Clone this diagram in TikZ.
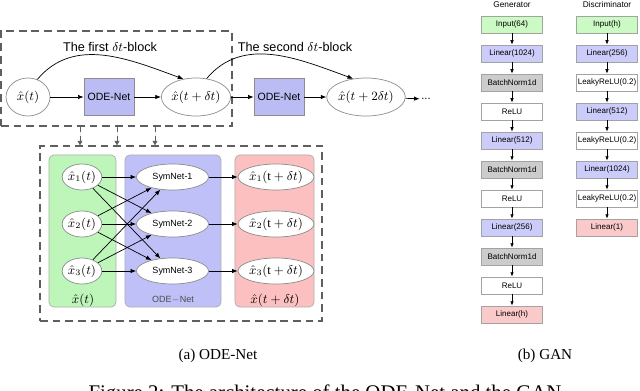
\documentclass[tikz,border=0pt]{standalone}
\usepackage{fontspec}
\setmainfont{Liberation Serif}
\setsansfont{Liberation Sans}
\usepackage{tikz}
\usetikzlibrary{arrows.meta,positioning,shapes.geometric}
\definecolor{odeblue}{RGB}{188,188,244}
\definecolor{panelgreen}{RGB}{190,246,186}
\definecolor{panelblue}{RGB}{192,192,248}
\definecolor{panelred}{RGB}{252,192,192}
\definecolor{layergreen}{RGB}{204,250,196}
\definecolor{layerblue}{RGB}{204,204,250}
\definecolor{layergray}{RGB}{204,204,204}
\definecolor{layerred}{RGB}{250,202,202}
\definecolor{edgegray}{RGB}{140,140,140}
\definecolor{dashgray}{RGB}{95,95,95}
\tikzset{
  stateell/.style={ellipse,draw=edgegray,fill=white,line width=0.5pt,inner sep=0pt,minimum width=1.1cm,
    minimum height=0.95cm,font=\fontsize{9.5}{10}\selectfont},
  odebox/.style={draw=edgegray,fill=odeblue,line width=0.5pt,minimum width=1.25cm,minimum height=0.925cm,
    inner sep=0pt,font=\sffamily\fontsize{7.5}{9}\selectfont},
  blkframe/.style={draw=dashgray,dash pattern=on 5.5pt off 3.5pt,line width=0.9pt,inner sep=0pt},
  blklabel/.style={font=\sffamily\fontsize{9}{10}\selectfont,inner sep=0pt},
  panel/.style={draw=edgegray!70,line width=0.5pt,rounded corners=1.2mm,minimum height=3.8cm,inner sep=0pt},
  panellabel/.style={font=\fontsize{9}{10}\selectfont,inner sep=0pt},
  compell/.style={ellipse,draw=edgegray,fill=white,line width=0.5pt,inner sep=0pt,minimum width=0.95cm,
    minimum height=0.65cm,font=\fontsize{9}{10}\selectfont},
  symell/.style={compell,minimum width=1.8cm,font=\sffamily\fontsize{6.4}{7}\selectfont},
  outell/.style={compell,minimum width=1.3cm},
  layer/.style={draw=edgegray!80,line width=0.5pt,minimum width=1.525cm,minimum height=0.425cm,inner sep=0pt,
    font=\sffamily\fontsize{5.7}{6}\selectfont,fill=white},
  layerin/.style={layer,fill=layergreen},
  layerlin/.style={layer,fill=layerblue},
  layernorm/.style={layer,fill=layergray},
  layerout/.style={layer,fill=layerred},
  gantitle/.style={font=\sffamily\fontsize{5.9}{6}\selectfont,inner sep=0pt},
  subcap/.style={font=\fontsize{10.8}{12}\selectfont,inner sep=0pt},
  figcap/.style={font=\fontsize{14.8}{16}\selectfont,inner sep=0pt,anchor=base},
  mainflow/.style={-{Latex[length=1.4mm,width=1.1mm]},line width=0.5pt},
  skipflow/.style={-{Latex[length=1.4mm,width=1.1mm]},line width=0.5pt},
  feed/.style={-{Triangle[length=1.1mm,width=1.2mm]},draw=dashgray,fill=dashgray,
    dash pattern=on 4pt off 3pt,line width=0.6pt},
  layerflow/.style={-{Latex[length=1.1mm,width=0.9mm]},line width=0.5pt}
}
\begin{document}
\begin{tikzpicture}[x=0.025cm,y=-0.025cm]
  \useasboundingbox (0,0) rectangle (640,390);
  \node[blkframe,minimum width=5.775cm,minimum height=2.375cm] (blk1) at (116.5,78.5) {};
  \node[blklabel] (lbl1) at (110,47) {The first $\delta t$-block};
  \node[blklabel] (lbl2) at (295,47) {The second $\delta t$-block};
  \node[stateell] (xt) at (28,97) {$\hat{x}(t)$};
  \node[odebox] (ode1) at (109,97) {ODE-Net};
  \node[stateell,minimum width=1.425cm] (xt1) at (196,97) {$\hat{x}(t+\delta t)$};
  \node[odebox] (ode2) at (279,97) {ODE-Net};
  \node[stateell,minimum width=1.6cm] (xt2) at (366,97) {$\hat{x}(t+2\delta t)$};
  \node[font=\sffamily\fontsize{8}{9}\selectfont,inner sep=1pt] (dots) at (426,99) {...};
  \draw[mainflow] (xt) -- (ode1);
  \draw[mainflow] (ode1) -- (xt1);
  \draw[mainflow] (xt1) -- (ode2);
  \draw[mainflow] (ode2) -- (xt2);
  \draw[mainflow] (xt2) -- (dots);
  \draw[skipflow] (xt.62) to[out=50,in=160] (xt1.125);
  \draw[skipflow] (xt1.60) to[out=50,in=160] (xt2.125);

  \node[blkframe,minimum width=7.05cm,minimum height=4.375cm] (blk2) at (181,233.5) {};
  \coordinate (tapA) at (80,0);
  \coordinate (tapB) at (117,0);
  \coordinate (tapC) at (155,0);
  \draw[feed] (blk1.south -| tapA) -- (blk2.north -| tapA);
  \draw[feed] (blk1.south -| tapB) -- (blk2.north -| tapB);
  \draw[feed] (blk1.south -| tapC) -- (blk2.north -| tapC);
  \node[panel,fill=panelgreen,minimum width=1.675cm] (pin) at (82.5,231) {};
  \node[panel,fill=panelblue,minimum width=2.4cm] (pode) at (173,231) {};
  \node[panel,fill=panelred,minimum width=1.975cm] (pout) at (274.5,231) {};
  \node[panellabel] (lin) at (83,300) {$\hat{x}(t)$};
  \node[panellabel,font=\sffamily\fontsize{6.4}{7}\selectfont,text=black!70] (lode) at (173,300) {ODE$-$Net};
  \node[panellabel] (lout) at (275,300) {$\hat{x}(t+\delta t)$};
  \node[compell] (in1) at (82,177) {$\hat{x}_1(t)$};
  \node[compell] (in2) at (82,224) {$\hat{x}_2(t)$};
  \node[compell] (in3) at (82,271) {$\hat{x}_3(t)$};
  \node[symell] (sym1) at (172.5,177) {SymNet-1};
  \node[symell] (sym2) at (172.5,224) {SymNet-2};
  \node[symell] (sym3) at (172.5,271) {SymNet-3};
  \node[outell] (out1) at (276,177) {$\hat{x}_1(\mathrm{t}+\delta t)$};
  \node[outell] (out2) at (276,224) {$\hat{x}_2(\mathrm{t}+\delta t)$};
  \node[outell] (out3) at (276,271) {$\hat{x}_3(\mathrm{t}+\delta t)$};
  \draw[mainflow] (in1) -- (sym1);
  \draw[mainflow] (in1) -- (sym2);
  \draw[mainflow] (in1) -- (sym3);
  \draw[mainflow] (in2) -- (sym1);
  \draw[mainflow] (in2) -- (sym2);
  \draw[mainflow] (in2) -- (sym3);
  \draw[mainflow] (in3) -- (sym1);
  \draw[mainflow] (in3) -- (sym2);
  \draw[mainflow] (in3) -- (sym3);
  \draw[mainflow] (sym1) -- (out1);
  \draw[mainflow] (sym2) -- (out2);
  \draw[mainflow] (sym3) -- (out3);

  \node[gantitle] (gtitle) at (512,5) {Generator};
  \node[gantitle] (dtitle) at (607,5) {Discriminator};
  \node[layerin] (g1) at (512,24.5) {Input(64)};
  \node[layerlin] (g2) at (512,53.5) {Linear(1024)};
  \node[layernorm] (g3) at (512,82.5) {BatchNorm1d};
  \node[layer] (g4) at (512,111.5) {ReLU};
  \node[layerlin] (g5) at (512,140.5) {Linear(512)};
  \node[layernorm] (g6) at (512,169.5) {BatchNorm1d};
  \node[layer] (g7) at (512,198.5) {ReLU};
  \node[layerlin] (g8) at (512,227.5) {Linear(256)};
  \node[layernorm] (g9) at (512,256.5) {BatchNorm1d};
  \node[layer] (g10) at (512,285.5) {ReLU};
  \node[layerout] (g11) at (512,314.5) {Linear(h)};
  \node[layerin] (d1) at (607,24.5) {Input(h)};
  \node[layerlin] (d2) at (607,53.5) {Linear(256)};
  \node[layer] (d3) at (607,82.5) {LeakyReLU(0.2)};
  \node[layerlin] (d4) at (607,111.5) {Linear(512)};
  \node[layer] (d5) at (607,140.5) {LeakyReLU(0.2)};
  \node[layerlin] (d6) at (607,169.5) {Linear(1024)};
  \node[layer] (d7) at (607,198.5) {LeakyReLU(0.2)};
  \node[layerout] (d8) at (607,227.5) {Linear(1)};
  \draw[layerflow] (g1) -- (g2);
  \draw[layerflow] (g2) -- (g3);
  \draw[layerflow] (g3) -- (g4);
  \draw[layerflow] (g4) -- (g5);
  \draw[layerflow] (g5) -- (g6);
  \draw[layerflow] (g6) -- (g7);
  \draw[layerflow] (g7) -- (g8);
  \draw[layerflow] (g8) -- (g9);
  \draw[layerflow] (g9) -- (g10);
  \draw[layerflow] (g10) -- (g11);
  \draw[layerflow] (d1) -- (d2);
  \draw[layerflow] (d2) -- (d3);
  \draw[layerflow] (d3) -- (d4);
  \draw[layerflow] (d4) -- (d5);
  \draw[layerflow] (d5) -- (d6);
  \draw[layerflow] (d6) -- (d7);
  \draw[layerflow] (d7) -- (d8);

  \node[subcap] (capa) at (218,356) {(a) ODE-Net};
  \node[subcap] (capb) at (545,356) {(b) GAN};
  \node[figcap] (figcap) at (325,399) {Figure 2: The architecture of the ODE-Net and the GAN};
\end{tikzpicture}
\end{document}
